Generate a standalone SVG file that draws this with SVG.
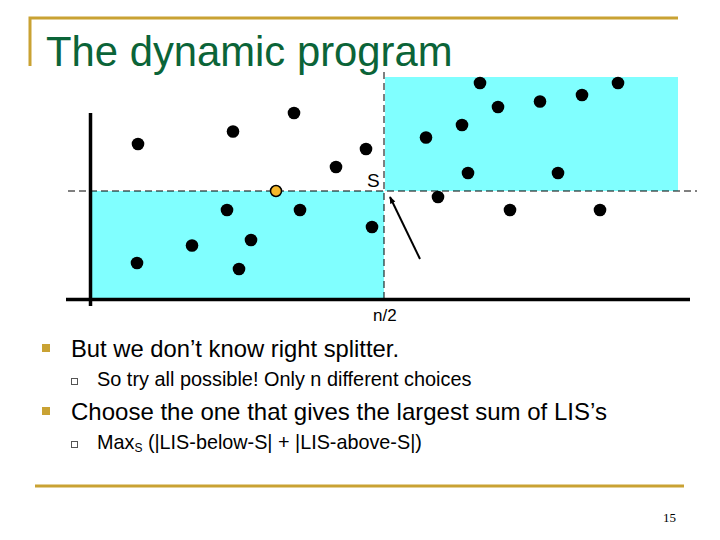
<svg xmlns="http://www.w3.org/2000/svg" width="720" height="540" viewBox="0 0 720 540">
<style>
.gold{stroke:#C9A233;stroke-width:3;fill:none}
.dot{fill:#000}
.dash{stroke:#000;stroke-width:1;stroke-dasharray:7 4;fill:none}
.axis{stroke:#000;stroke-width:3.5;fill:none}
.region{fill:#80FFFF}
.t{font-family:"Liberation Sans",Arial,sans-serif;fill:#000}
.b{fill:#C9A233}
.sb{fill:none;stroke:#555;stroke-width:1}
</style>
<defs>
<marker id="ah" viewBox="0 0 10 10" refX="9" refY="5" markerWidth="8" markerHeight="7" orient="auto" markerUnits="userSpaceOnUse">
<path d="M0,1 L10,5 L0,9 z" fill="#000"/>
</marker>
</defs>
<rect width="720" height="540" fill="#fff"/>
<g id="frame">
<polyline class="gold" points="30,66 30,18 678,18"/>
<line class="gold" x1="35" y1="486" x2="684" y2="486"/>
</g>
<text class="t" x="46" y="66" font-size="41.8" style="fill:#0B6438">The dynamic program</text>
<g id="regions">
<rect class="region" x="92" y="191" width="292" height="107"/>
<rect class="region" x="385" y="77" width="293" height="114"/>
</g>
<g id="guides">
<line class="dash" x1="68" y1="191" x2="697" y2="191"/>
<line class="dash" x1="384" y1="72" x2="384" y2="299"/>
</g>
<g id="axes">
<line class="axis" x1="90.5" y1="113" x2="90.5" y2="306"/>
<line class="axis" x1="66" y1="299.5" x2="690" y2="299.5"/>
</g>
<g id="points">
<circle class="dot" cx="138" cy="144" r="6.3"/>
<circle class="dot" cx="233" cy="131.5" r="6.3"/>
<circle class="dot" cx="294" cy="113" r="6.3"/>
<circle class="dot" cx="336" cy="167" r="6.3"/>
<circle class="dot" cx="366" cy="149" r="6.3"/>
<circle class="dot" cx="227" cy="210" r="6.3"/>
<circle class="dot" cx="300" cy="210" r="6.3"/>
<circle class="dot" cx="372" cy="227" r="6.3"/>
<circle class="dot" cx="251" cy="240" r="6.3"/>
<circle class="dot" cx="192" cy="245.5" r="6.3"/>
<circle class="dot" cx="137" cy="263" r="6.3"/>
<circle class="dot" cx="239" cy="269" r="6.3"/>
<circle class="dot" cx="480" cy="83" r="6.3"/>
<circle class="dot" cx="618" cy="83" r="6.3"/>
<circle class="dot" cx="498" cy="107" r="6.3"/>
<circle class="dot" cx="540" cy="101.5" r="6.3"/>
<circle class="dot" cx="582" cy="95" r="6.3"/>
<circle class="dot" cx="462" cy="125" r="6.3"/>
<circle class="dot" cx="426" cy="137.5" r="6.3"/>
<circle class="dot" cx="468" cy="173" r="6.3"/>
<circle class="dot" cx="558" cy="173" r="6.3"/>
<circle class="dot" cx="438" cy="197" r="6.3"/>
<circle class="dot" cx="510" cy="210" r="6.3"/>
<circle class="dot" cx="600" cy="210" r="6.3"/>
</g>
<g id="splitter">
<circle cx="276" cy="191" r="5.5" fill="#F5B82A" stroke="#000" stroke-width="1.5"/>
</g>
<g id="labels">
<text class="t" x="367" y="187" font-size="19">S</text>
<text class="t" x="373" y="321" font-size="17">n/2</text>
</g>
<g id="connectors">
<line x1="420" y1="259" x2="390" y2="197" stroke="#000" stroke-width="2" marker-end="url(#ah)"/>
</g>
<g id="bullets">
<rect class="b" x="42" y="344" width="8" height="8"/>
<text class="t" x="71" y="357" font-size="23.8">But we don’t know right splitter.</text>
<rect class="sb" x="71.5" y="378.5" width="6" height="6"/>
<text class="t" x="97" y="386" font-size="19.9">So try all possible! Only n different choices</text>
<rect class="b" x="42" y="407" width="8" height="8"/>
<text class="t" x="71" y="420" font-size="24">Choose the one that gives the largest sum of LIS’s</text>
<rect class="sb" x="71.5" y="441.5" width="6" height="6"/>
<text class="t" x="97" y="449" font-size="19.8">Max<tspan font-size="12" dy="3">S</tspan><tspan dy="-3"> (|LIS-below-S| + |LIS-above-S|)</tspan></text>
</g>
<text x="663" y="522" font-family="'Liberation Serif','Times New Roman',serif" font-size="13" fill="#000">15</text>
</svg>
